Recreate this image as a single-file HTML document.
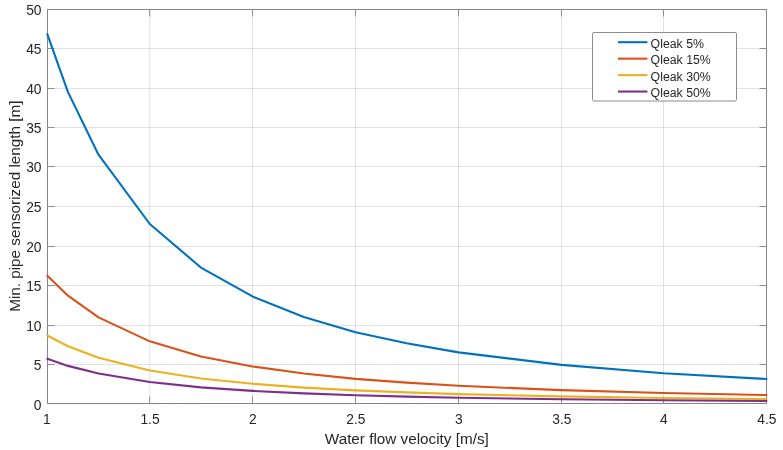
<!DOCTYPE html><html><head><meta charset="utf-8"><style>html,body{margin:0;padding:0;background:#fff}svg{display:block}text{font-family:"Liberation Sans",sans-serif;fill:#262626}</style></head><body>
<svg width="783" height="450" viewBox="0 0 783 450">
<rect width="783" height="450" fill="#fff"/>
<g stroke="#262626" stroke-opacity="0.135" stroke-width="1"><line x1="149.7" y1="9.5" x2="149.7" y2="403.5"/><line x1="252.5" y1="9.5" x2="252.5" y2="403.5"/><line x1="355.5" y1="9.5" x2="355.5" y2="403.5"/><line x1="458.5" y1="9.5" x2="458.5" y2="403.5"/><line x1="561.5" y1="9.5" x2="561.5" y2="403.5"/><line x1="663.5" y1="9.5" x2="663.5" y2="403.5"/><line x1="47.5" y1="364.5" x2="766.5" y2="364.5"/><line x1="47.5" y1="325.5" x2="766.5" y2="325.5"/><line x1="47.5" y1="285.5" x2="766.5" y2="285.5"/><line x1="47.5" y1="246.5" x2="766.5" y2="246.5"/><line x1="47.5" y1="206.5" x2="766.5" y2="206.5"/><line x1="47.5" y1="166.5" x2="766.5" y2="166.5"/><line x1="47.5" y1="127.5" x2="766.5" y2="127.5"/><line x1="47.5" y1="88.5" x2="766.5" y2="88.5"/><line x1="47.5" y1="48.5" x2="766.5" y2="48.5"/></g>
<rect x="47.5" y="9.5" width="719.0" height="394.0" fill="none" stroke="#868686" stroke-width="1"/>
<g stroke="#8e8e8e" stroke-width="1"><line x1="149.7" y1="403.5" x2="149.7" y2="396.5"/><line x1="149.7" y1="9.5" x2="149.7" y2="16.5"/><line x1="252.5" y1="403.5" x2="252.5" y2="396.5"/><line x1="252.5" y1="9.5" x2="252.5" y2="16.5"/><line x1="355.5" y1="403.5" x2="355.5" y2="396.5"/><line x1="355.5" y1="9.5" x2="355.5" y2="16.5"/><line x1="458.5" y1="403.5" x2="458.5" y2="396.5"/><line x1="458.5" y1="9.5" x2="458.5" y2="16.5"/><line x1="561.5" y1="403.5" x2="561.5" y2="396.5"/><line x1="561.5" y1="9.5" x2="561.5" y2="16.5"/><line x1="663.5" y1="403.5" x2="663.5" y2="396.5"/><line x1="663.5" y1="9.5" x2="663.5" y2="16.5"/><line x1="47.5" y1="364.5" x2="54.5" y2="364.5"/><line x1="766.5" y1="364.5" x2="759.5" y2="364.5"/><line x1="47.5" y1="325.5" x2="54.5" y2="325.5"/><line x1="766.5" y1="325.5" x2="759.5" y2="325.5"/><line x1="47.5" y1="285.5" x2="54.5" y2="285.5"/><line x1="766.5" y1="285.5" x2="759.5" y2="285.5"/><line x1="47.5" y1="246.5" x2="54.5" y2="246.5"/><line x1="766.5" y1="246.5" x2="759.5" y2="246.5"/><line x1="47.5" y1="206.5" x2="54.5" y2="206.5"/><line x1="766.5" y1="206.5" x2="759.5" y2="206.5"/><line x1="47.5" y1="166.5" x2="54.5" y2="166.5"/><line x1="766.5" y1="166.5" x2="759.5" y2="166.5"/><line x1="47.5" y1="127.5" x2="54.5" y2="127.5"/><line x1="766.5" y1="127.5" x2="759.5" y2="127.5"/><line x1="47.5" y1="88.5" x2="54.5" y2="88.5"/><line x1="766.5" y1="88.5" x2="759.5" y2="88.5"/><line x1="47.5" y1="48.5" x2="54.5" y2="48.5"/><line x1="766.5" y1="48.5" x2="759.5" y2="48.5"/></g>
<polyline points="47.30,34.20 68.00,92.10 98.50,154.70 149.80,224.00 200.90,267.55 252.50,296.45 303.80,317.00 355.50,332.26 406.60,343.30 458.50,352.40 561.50,364.85 663.50,373.26 766.50,379.00" fill="none" stroke="#0072BD" stroke-width="2.1" stroke-linejoin="round" stroke-linecap="round"/>
<polyline points="47.30,275.65 68.00,295.69 98.50,317.37 149.80,341.36 200.90,356.43 252.50,366.44 303.80,373.55 355.50,378.84 406.60,382.66 458.50,385.81 561.50,390.12 663.50,393.03 766.50,395.02" fill="none" stroke="#D95319" stroke-width="2.1" stroke-linejoin="round" stroke-linecap="round"/>
<polyline points="47.30,335.55 68.00,346.20 98.50,357.72 149.80,370.47 200.90,378.49 252.50,383.80 303.80,387.58 355.50,390.39 406.60,392.42 458.50,394.10 561.50,396.39 663.50,397.94 766.50,398.99" fill="none" stroke="#EDB120" stroke-width="2.1" stroke-linejoin="round" stroke-linecap="round"/>
<polyline points="47.30,358.81 68.00,365.89 98.50,373.54 149.80,382.02 200.90,387.35 252.50,390.88 303.80,393.39 355.50,395.26 406.60,396.61 458.50,397.72 561.50,399.25 663.50,400.27 766.50,400.98" fill="none" stroke="#7E2F8E" stroke-width="2.1" stroke-linejoin="round" stroke-linecap="round"/>
<text x="46.80" y="424.0" font-size="13.8" text-anchor="middle">1</text>
<text x="150.00" y="424.0" font-size="13.8" text-anchor="middle">1.5</text>
<text x="252.80" y="424.0" font-size="13.8" text-anchor="middle">2</text>
<text x="355.80" y="424.0" font-size="13.8" text-anchor="middle">2.5</text>
<text x="458.80" y="424.0" font-size="13.8" text-anchor="middle">3</text>
<text x="561.80" y="424.0" font-size="13.8" text-anchor="middle">3.5</text>
<text x="663.80" y="424.0" font-size="13.8" text-anchor="middle">4</text>
<text x="766.80" y="424.0" font-size="13.8" text-anchor="middle">4.5</text>
<text x="41.5" y="409.50" font-size="13.8" text-anchor="end">0</text>
<text x="41.5" y="370.43" font-size="13.8" text-anchor="end">5</text>
<text x="41.5" y="331.36" font-size="13.8" text-anchor="end">10</text>
<text x="41.5" y="291.29" font-size="13.8" text-anchor="end">15</text>
<text x="41.5" y="252.22" font-size="13.8" text-anchor="end">20</text>
<text x="41.5" y="212.15" font-size="13.8" text-anchor="end">25</text>
<text x="41.5" y="172.08" font-size="13.8" text-anchor="end">30</text>
<text x="41.5" y="133.01" font-size="13.8" text-anchor="end">35</text>
<text x="41.5" y="93.94" font-size="13.8" text-anchor="end">40</text>
<text x="41.5" y="53.87" font-size="13.8" text-anchor="end">45</text>
<text x="41.5" y="14.80" font-size="13.8" text-anchor="end">50</text>
<text x="406.8" y="443.8" font-size="15.27" text-anchor="middle">Water flow velocity [m/s]</text>
<text transform="translate(19.8,206.2) rotate(-90)" font-size="15.27" text-anchor="middle">Min. pipe sensorized length [m]</text>
<rect x="592.5" y="32.5" width="144" height="68.5" rx="1.5" fill="#fff" stroke="#8c8c8c" stroke-width="1"/>
<line x1="618" y1="42.20" x2="647.4" y2="42.20" stroke="#0072BD" stroke-width="2.1"/>
<text x="650.6" y="47.50" font-size="12.3">Qleak 5%</text>
<line x1="618" y1="58.65" x2="647.4" y2="58.65" stroke="#D95319" stroke-width="2.1"/>
<text x="650.6" y="64.10" font-size="12.3">Qleak 15%</text>
<line x1="618" y1="75.10" x2="647.4" y2="75.10" stroke="#EDB120" stroke-width="2.1"/>
<text x="650.6" y="80.70" font-size="12.3">Qleak 30%</text>
<line x1="618" y1="91.55" x2="647.4" y2="91.55" stroke="#7E2F8E" stroke-width="2.1"/>
<text x="650.6" y="97.30" font-size="12.3">Qleak 50%</text>
</svg></body></html>
